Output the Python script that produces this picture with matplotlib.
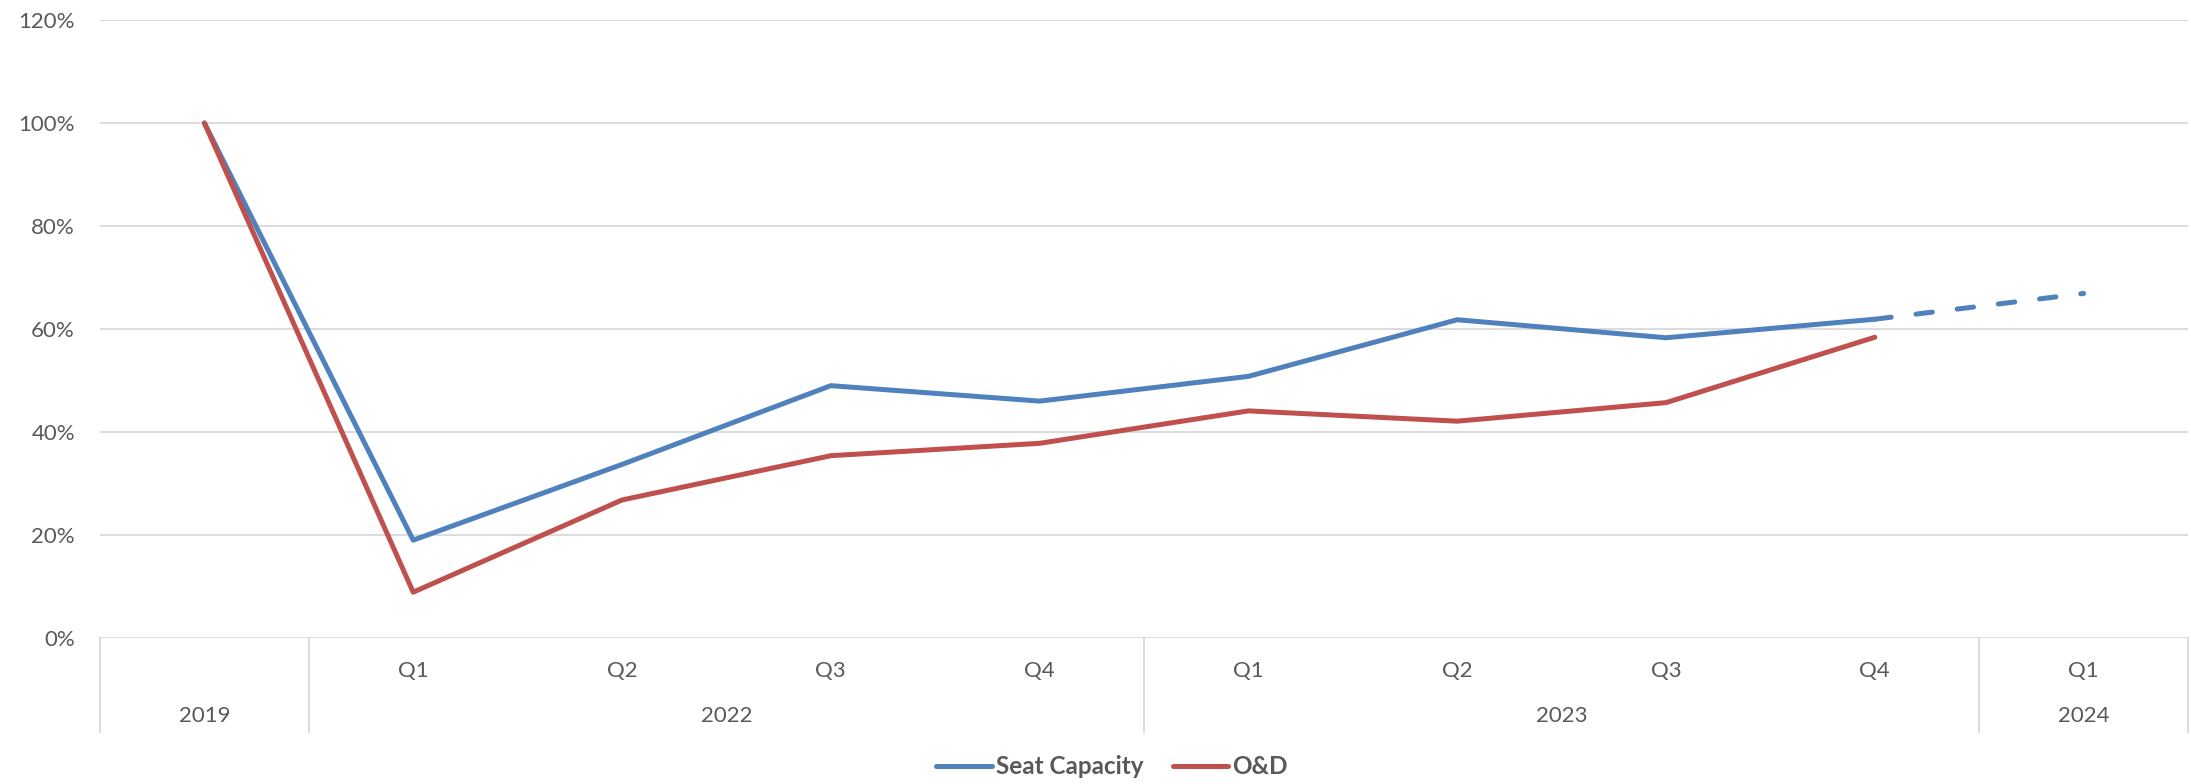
import matplotlib
matplotlib.use('Agg')
import matplotlib.pyplot as plt
import matplotlib.ticker as ticker
import matplotlib.transforms as mtransforms
import numpy as np

# categories on the x axis (2019 baseline, then quarters)
quarters = ['', 'Q1', 'Q2', 'Q3', 'Q4', 'Q1', 'Q2', 'Q3', 'Q4', 'Q1']
years = ['2019', '2022', '2023', '2024']
year_spans = [(0, 0), (1, 4), (5, 8), (9, 9)]

# recovery vs 2019, percent
seat_capacity = [100, 19.0, 33.7, 49.0, 46.0, 50.8, 61.8, 58.3, 61.9, 66.9]
o_and_d = [100, 8.9, 26.8, 35.4, 37.8, 44.1, 42.1, 45.7, 58.4]
n_actual = 9  # last seat capacity point is a forecast

BLUE = '#4F81BD'
RED = '#C0504D'
GRID = '#D9D9D9'
TEXT = '#595959'

plt.rcParams['font.family'] = ['Lato', 'DejaVu Sans']

W, H = 2191, 784
fig = plt.figure(figsize=(W / 100, H / 100), dpi=100)
left, right, top, bottom = 100, 2188, 20, 638
ax = fig.add_axes([left / W, 1 - bottom / H, (right - left) / W, (bottom - top) / H])

x = np.arange(len(quarters))
lw = 3.6

ax.plot(x[:n_actual], seat_capacity[:n_actual], color=BLUE, lw=lw,
        solid_capstyle='round', solid_joinstyle='round', label='Seat Capacity', zorder=3)
ax.plot(x[n_actual - 1:], seat_capacity[n_actual - 1:], color=BLUE, lw=lw,
        dashes=(3.3, 5.0), dash_capstyle='round', zorder=3)
ax.plot(x[:len(o_and_d)], o_and_d, color=RED, lw=lw,
        solid_capstyle='round', solid_joinstyle='round', label='O&D', zorder=3)

ax.set_xlim(-0.5, len(quarters) - 0.5)
ax.set_ylim(0, 120)
ax.yaxis.set_major_locator(ticker.MultipleLocator(20))
ax.yaxis.set_major_formatter(ticker.FuncFormatter(lambda v, p: f'{v:.0f}%'))
ax.tick_params(axis='y', length=0, pad=18, labelsize=16, labelcolor=TEXT)
ax.tick_params(axis='x', length=0, labelbottom=False)
ax.set_xticks([])
ax.grid(True, axis='y', color=GRID, lw=1.3, zorder=0)
for s in ax.spines.values():
    s.set_visible(False)

# two-level category axis drawn below the plot
trans = mtransforms.blended_transform_factory(ax.transData, ax.transAxes)
h = bottom - top
q_y = (bottom - 670.5) / h
yr_y = (bottom - 716) / h
div_y = (bottom - 732) / h

for xi, q in zip(x, quarters):
    ax.text(xi, q_y, q, transform=trans, ha='center', va='center',
            fontsize=16, color=TEXT)

dividers = [-0.5] + [end + 0.5 for _, end in year_spans]
for d in dividers:
    ax.plot([d, d], [0, div_y], transform=trans, color=GRID, lw=1.3, clip_on=False)

for yr, (a, b) in zip(years, year_spans):
    ax.text((a + b) / 2, yr_y, yr, transform=trans, ha='center', va='center',
            fontsize=16, color=TEXT)

leg = fig.legend(loc='center', bbox_to_anchor=(1112 / W, 1 - 767 / H), ncols=2,
                 frameon=False, handlelength=2.3, handletextpad=0.17, columnspacing=1.2,
                 prop={'size': 17.5, 'weight': 'bold'})
for t in leg.get_texts():
    t.set_color(TEXT)

fig.savefig('out.png', dpi=100, facecolor='white')
